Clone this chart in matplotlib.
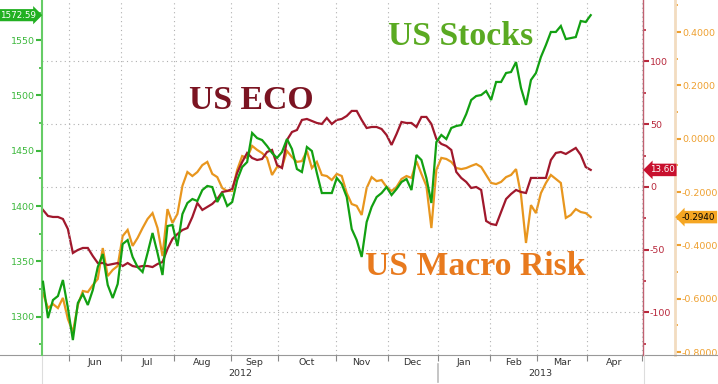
import numpy as np
import pandas as pd
import matplotlib
matplotlib.use("Agg")
import matplotlib.pyplot as plt
from matplotlib.lines import Line2D
from matplotlib.ticker import MultipleLocator, FuncFormatter, FixedLocator, NullFormatter
from matplotlib.transforms import blended_transform_factory
from matplotlib import font_manager

# ---------------- data ----------------
holidays = ['2012-05-28', '2012-07-04', '2012-09-03', '2012-11-22', '2012-12-25',
            '2013-01-01', '2013-01-21', '2013-02-18', '2013-03-29']
start_date, data_end, axis_end = '2012-05-16', '2013-04-02', '2013-04-30'

# sampled every 2nd trading day
us_stocks = [1331.6, 1298.8, 1315.1, 1318.7, 1333.2, 1307.9, 1278.9, 1312.4, 1320.5, 1310.6,
             1324.1, 1344.9, 1356.7, 1328.7, 1316.9, 1329.6, 1365.7, 1369.3, 1354.0, 1344.9,
             1340.4, 1357.6, 1375.7, 1357.6, 1337.7, 1382.0, 1382.9, 1363.9, 1392.8, 1402.8,
             1406.4, 1404.6, 1414.5, 1418.2, 1417.2, 1403.7, 1411.8, 1400.1, 1403.7, 1423.6,
             1435.3, 1439.8, 1466.1, 1461.5, 1459.7, 1454.3, 1448.0, 1443.5, 1448.9, 1460.6,
             1451.6, 1433.5, 1430.8, 1453.4, 1449.8, 1429.9, 1411.8, 1411.8, 1411.8, 1425.4,
             1420.0, 1408.2, 1379.3, 1369.3, 1354.0, 1385.6, 1399.2, 1408.2, 1411.8, 1417.2,
             1410.0, 1415.4, 1421.8, 1424.5, 1414.5, 1446.2, 1441.7, 1425.4, 1402.8, 1457.9,
             1464.3, 1460.6, 1470.6, 1472.4, 1473.3, 1483.2, 1495.9, 1499.5, 1500.4, 1504.0,
             1495.9, 1512.2, 1512.2, 1520.3, 1521.2, 1530.2, 1506.7, 1491.4, 1514.0, 1520.3,
             1534.8, 1545.6, 1557.4, 1557.4, 1562.8, 1551.0, 1551.9, 1552.8, 1567.3, 1566.4,
             1572.59]
us_eco = [-18.3, -23.1, -23.9, -23.9, -25.5, -33.5, -52.6, -50.2, -48.6, -48.6,
          -55.0, -60.6, -60.6, -62.2, -61.4, -60.6, -63.0, -60.6, -63.0, -63.8,
          -63.0, -63.0, -63.8, -61.4, -59.8, -49.4, -41.4, -37.5, -34.3, -32.7,
          -23.9, -12.8, -18.3, -15.9, -13.5, -9.6, -4.0, -3.2, -1.6, 11.2,
          19.9, 27.1, 23.1, 21.5, 22.3, 27.9, 29.5, 17.5, 15.1, 37.5,
          43.8, 45.4, 53.4, 54.2, 52.6, 51.0, 50.2, 55.0, 50.2, 53.4,
          54.2, 56.6, 60.6, 60.6, 53.4, 47.0, 47.8, 47.8, 46.2, 41.4,
          33.5, 42.2, 51.8, 51.0, 51.0, 47.8, 55.8, 55.8, 50.2, 38.3,
          34.3, 32.7, 29.5, 12.0, 7.2, 4.0, -0.8, 0.0, -2.4, -27.1,
          -29.5, -30.3, -19.9, -9.6, -5.6, -2.4, -4.0, -4.8, 7.2, 7.2,
          7.2, 7.2, 21.5, 27.1, 27.9, 26.3, 28.7, 31.1, 25.5, 15.9,
          13.60]
us_macro_risk = [-0.579, -0.635, -0.620, -0.635, -0.597, -0.676, -0.725, -0.624, -0.571, -0.575,
                 -0.549, -0.526, -0.410, -0.515, -0.492, -0.477, -0.365, -0.342, -0.402, -0.372,
                 -0.335, -0.301, -0.279, -0.335, -0.440, -0.264, -0.316, -0.282, -0.177, -0.125,
                 -0.140, -0.125, -0.099, -0.087, -0.132, -0.144, -0.185, -0.196, -0.196, -0.117,
                 -0.065, -0.072, -0.027, -0.042, -0.054, -0.072, -0.136, -0.106, -0.106, -0.046,
                 -0.069, -0.087, -0.084, -0.046, -0.110, -0.087, -0.136, -0.140, -0.155, -0.132,
                 -0.140, -0.204, -0.245, -0.252, -0.286, -0.185, -0.144, -0.159, -0.155, -0.181,
                 -0.196, -0.181, -0.151, -0.140, -0.147, -0.084, -0.132, -0.177, -0.335, -0.117,
                 -0.072, -0.076, -0.087, -0.110, -0.114, -0.110, -0.102, -0.095, -0.106, -0.136,
                 -0.166, -0.170, -0.162, -0.144, -0.136, -0.114, -0.211, -0.391, -0.249, -0.279,
                 -0.204, -0.166, -0.136, -0.151, -0.166, -0.297, -0.286, -0.264, -0.275, -0.279,
                 -0.294]

month_labels = ['Jun', 'Jul', 'Aug', 'Sep', 'Oct', 'Nov', 'Dec', 'Jan', 'Feb', 'Mar', 'Apr']
year_labels = ['2012', '2013']
stocks_ticks = [1300, 1350, 1400, 1450, 1500, 1550]
eco_ticks = [-100, -50, 0, 50, 100]
risk_ticks = [-0.8, -0.6, -0.4, -0.2, 0.0, 0.2, 0.4]

# ---------------- style ----------------
C_GREEN = '#12a012'
C_RED = '#a0182c'
C_ORANGE = '#e8961e'
C_GREEN_TXT = '#3cb83c'
C_RED_TXT = '#b8283c'
C_OR_TXT = '#eea030'
GRID = '#b0b0b0'

installed = {f.name for f in font_manager.fontManager.ttflist}
SMALL = 'Liberation Sans Narrow' if 'Liberation Sans Narrow' in installed else 'DejaVu Sans'
plt.rcParams['font.family'] = [SMALL, 'DejaVu Sans']
FS = 8.3 if SMALL != 'DejaVu Sans' else 6.8
TAG_FS = 8.2 if SMALL != 'DejaVu Sans' else 6.3

# ---------------- calendar ----------------
cal = pd.bdate_range(start_date, axis_end, freq='C', holidays=holidays)
n_data = int((cal <= pd.Timestamp(data_end)).sum())
x = np.arange(0, n_data, 2)
month_start = [i for i in range(1, len(cal)) if cal[i].month != cal[i - 1].month]
bounds = [b - 0.5 for b in month_start] + [len(cal) - 0.5]

W, H = 718, 384
fig = plt.figure(figsize=(W / 100, H / 100), dpi=100)
L, R, B, T = 42, 643, 355, 0
ax = fig.add_axes([L / W, 1 - B / H, (R - L) / W, (B - T) / H])
ax_red = ax.twinx()
ax_or = ax.twinx()
ax_or.spines['right'].set_position(('axes', 1 + 32 / (R - L)))

for a in (ax, ax_red, ax_or):
    a.set_facecolor('none')
    a.spines['top'].set_visible(False)
    a.spines['bottom'].set_visible(False)
ax.spines['right'].set_visible(False)
ax_red.spines['left'].set_visible(False)
ax_or.spines['left'].set_visible(False)

ax.set_xlim(-0.4, len(cal) + 0.0)

# lines
ax_or.plot(x, us_macro_risk, color=C_ORANGE, lw=1.6, solid_joinstyle='miter', zorder=3)
ax_red.plot(x, us_eco, color=C_RED, lw=1.6, solid_joinstyle='miter', zorder=3)
ax.plot(x, us_stocks, color=C_GREEN, lw=1.6, solid_joinstyle='miter', zorder=5)
ax.set_zorder(3)
ax_red.set_zorder(2)
ax_or.set_zorder(1)

ax.set_ylim(1265.4, 1586.3)
ax_red.set_ylim(-133.9, 149.0)
ax_or.set_ylim(-0.811, 0.520)

# left axis
ax.spines['left'].set_color('#66cc66')
ax.spines['left'].set_linewidth(1.5)
ax.yaxis.set_major_locator(FixedLocator(stocks_ticks))
ax.yaxis.set_minor_locator(MultipleLocator(25))
ax.tick_params(axis='y', which='major', colors=C_GREEN_TXT, labelsize=FS, length=4, width=1.5, pad=1)
ax.tick_params(axis='y', which='minor', colors=C_GREEN_TXT, length=2, width=1.2)

# red axis
ax_red.spines['right'].set_color('#c06070')
ax_red.spines['right'].set_linewidth(1.0)
ax_red.yaxis.set_major_locator(FixedLocator(eco_ticks))
ax_red.yaxis.set_minor_locator(MultipleLocator(25))
ax_red.yaxis.set_major_formatter(FuncFormatter(lambda v, p: '%d' % v))
ax_red.tick_params(axis='y', which='major', colors=C_RED_TXT, labelsize=FS, length=4, width=1.5, pad=1)
ax_red.tick_params(axis='y', which='minor', colors=C_RED_TXT, length=2, width=1.2)
ax_red.yaxis.grid(True, which='major', color=GRID, linestyle=(0, (1, 3)), lw=0.8)

# orange axis
ax_or.spines['right'].set_color('#f2dcc0')
ax_or.spines['right'].set_linewidth(2.0)
ax_or.yaxis.set_major_locator(FixedLocator(risk_ticks))
ax_or.yaxis.set_minor_locator(MultipleLocator(0.1))
ax_or.yaxis.set_major_formatter(FuncFormatter(lambda v, p: ('%.4f' % v).replace('-0.0000', '0.0000')))
ax_or.tick_params(axis='y', which='major', colors=C_OR_TXT, labelsize=FS, length=4, width=1.5, pad=1)
ax_or.tick_params(axis='y', which='minor', colors=C_OR_TXT, length=2, width=1.2)

# x axis
for a in (ax_red, ax_or):
    a.tick_params(axis='x', which='both', bottom=False, labelbottom=False)
ax.xaxis.set_major_locator(FixedLocator(bounds))
ax.xaxis.set_major_formatter(NullFormatter())
centers = [(bounds[i] + bounds[i + 1]) / 2 for i in range(len(month_labels))]
ax.set_xticks(centers, minor=True)
ax.set_xticklabels(month_labels, minor=True)
ax.tick_params(axis='x', which='major', length=4, color='#888888', width=0.8)
ax.tick_params(axis='x', which='minor', length=0, labelsize=FS, colors='#333333', pad=2)
ax.xaxis.grid(True, which='major', color=GRID, linestyle=(0, (1, 3)), lw=0.8)

# year labels
jan_b = bounds[month_labels.index('Jan')]
xl = ax.get_xlim()
trans = blended_transform_factory(ax.transData, fig.transFigure)
ax.text((xl[0] + jan_b) / 2, 1 - 374 / H, year_labels[0], transform=trans,
        ha='center', va='center', fontsize=FS, color='#333333')
ax.text((jan_b + xl[1]) / 2, 1 - 374 / H, year_labels[1], transform=trans,
        ha='center', va='center', fontsize=FS, color='#333333')
fig.add_artist(Line2D([0, 1], [1 - B / H, 1 - B / H], transform=fig.transFigure,
                      color='#999999', lw=0.8))
ax.add_artist(Line2D([jan_b, jan_b], [1 - 364 / H, 1 - 382 / H], transform=trans,
                     color='#bbbbbb', lw=1.2, clip_on=False))
fig.add_artist(Line2D([L / W, L / W], [0, 1 - B / H], transform=fig.transFigure,
                      color='#dddddd', lw=0.8))
fig.add_artist(Line2D([(R + 1) / W, (R + 1) / W], [0, 1 - B / H], transform=fig.transFigure,
                      color='#dddddd', lw=0.8))

# value tags
ax.annotate('%.2f' % us_stocks[-1], xy=(0, us_stocks[-1]), xycoords=('axes fraction', 'data'),
            xytext=(-4.5, 0), textcoords='offset points', ha='right', va='center',
            fontsize=TAG_FS, color='white',
            bbox=dict(boxstyle='rarrow,pad=0.18', fc='#22b022', ec='none'), annotation_clip=False)
ax_red.annotate('%.2f' % us_eco[-1], xy=(1, us_eco[-1]), xycoords=('axes fraction', 'data'),
                xytext=(5, 0), textcoords='offset points', ha='left', va='center',
                fontsize=TAG_FS, color='white',
                bbox=dict(boxstyle='larrow,pad=0.2', fc='#c8102e', ec='none'), annotation_clip=False)
ax_or.annotate('%.4f' % us_macro_risk[-1], xy=(1 + 32 / (R - L), us_macro_risk[-1]),
               xycoords=('axes fraction', 'data'),
               xytext=(5, 0), textcoords='offset points', ha='left', va='center',
               fontsize=TAG_FS, color='black',
               bbox=dict(boxstyle='larrow,pad=0.2', fc='#f5a623', ec='none'), annotation_clip=False)

# series titles
serif = ['Liberation Serif', 'DejaVu Serif']
fig.text(388 / W, 1 - 45 / H, 'US Stocks', family=serif, weight='bold', fontsize=24.3,
         color='#5aaa22', va='baseline', ha='left')
fig.text(189 / W, 1 - 109 / H, 'US ECO', family=serif, weight='bold', fontsize=24.3,
         color='#7b1422', va='baseline', ha='left')
fig.text(365 / W, 1 - 275 / H, 'US Macro Risk', family=serif, weight='bold', fontsize=24.3,
         color='#e87a1e', va='baseline', ha='left')

fig.savefig('out.png', dpi=100)
